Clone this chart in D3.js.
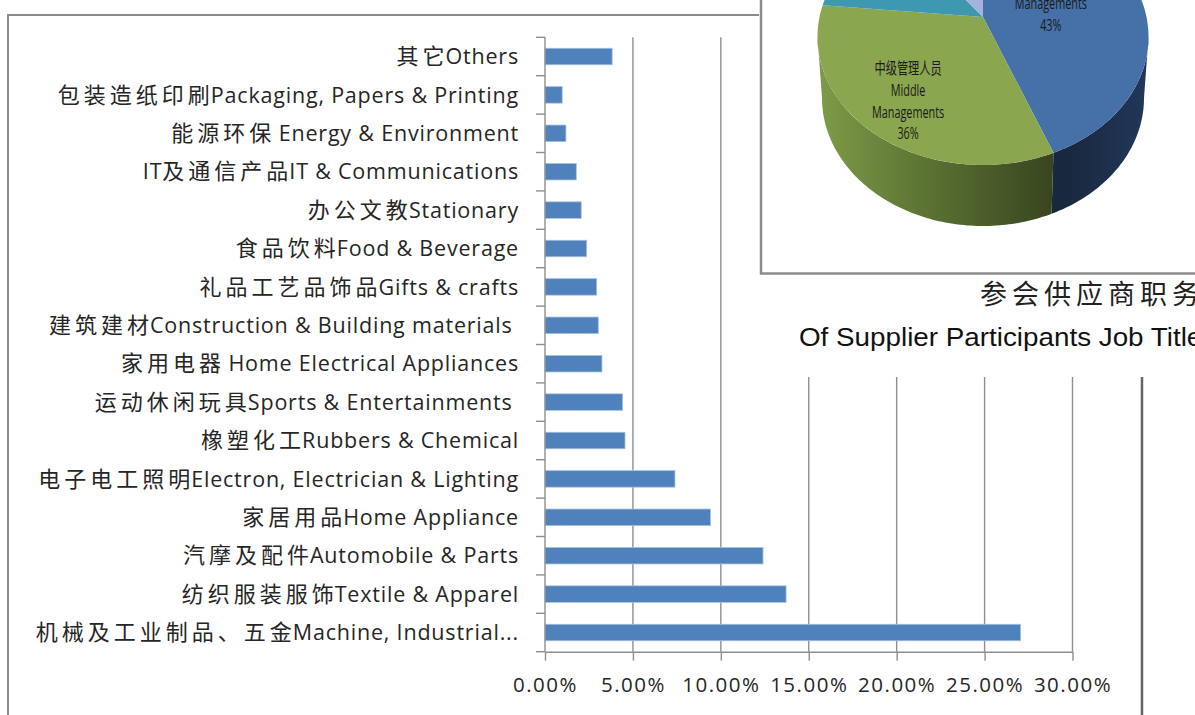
<!DOCTYPE html>
<html>
<head>
<meta charset="utf-8">
<script src="https://cdn.jsdelivr.net/npm/d3@7/dist/d3.min.js"></script>
<style>
  body { margin: 0; background: #fff; }
  svg { display: block; }
  .cat { white-space: pre; }
</style>
</head>
<body>
<div id="chart"></div>
<script>
// Industry categories, top to bottom as in the picture
var categories = [
  "其它Others",
  "包装造纸印刷Packaging, Papers & Printing",
  "能源环保 Energy & Environment",
  "IT及通信产品IT & Communications",
  "办公文教Stationary",
  "食品饮料Food & Beverage",
  "礼品工艺品饰品Gifts & crafts",
  "建筑建材Construction & Building materials ",
  "家用电器 Home Electrical Appliances",
  "运动休闲玩具Sports & Entertainments ",
  "橡塑化工Rubbers & Chemical",
  "电子电工照明Electron, Electrician & Lighting",
  "家居用品Home Appliance",
  "汽摩及配件Automobile & Parts",
  "纺织服装服饰Textile & Apparel",
  "机械及工业制品、五金Machine, Industrial..."
];
// share of participants in percent
var shares = [3.82, 0.98, 1.19, 1.78, 2.06, 2.37, 2.94, 3.03, 3.24, 4.41, 4.55, 7.39, 9.41, 12.40, 13.71, 27.05];
var xTicks = [0, 5, 10, 15, 20, 25, 30];

// pie of job titles (only partly visible)
var pieNames = [
  ["高级管理人员", "Senior", "Managements", "43%"],
  ["中级管理人员", "Middle", "Managements", "36%"],
  [],
  []
];
var pieValues = [43, 36, 12, 9];
var pieColors = ["#4571a8", "#8aa64f", "#3e98b0", "#a5b3dc"];

var titleCn = "参会供应商职务";
var titleEn = "Of Supplier Participants Job Title";

var latinFont = "'Open Sans', 'Noto Sans CJK SC', sans-serif";
var cjkFont = "'Noto Sans CJK SC', sans-serif";

var svgWidth = 1195;
var svgHeight = 715;

var svg = d3.select("#chart")
  .append("svg")
  .attr("width", svgWidth)
  .attr("height", svgHeight);

// outer frame of the bar chart
svg.append("path")
  .attr("d", "M8,716 V15 H1142 V716")
  .attr("fill", "none")
  .attr("stroke", "#8a8a8a")
  .attr("stroke-width", 2);
svg.append("line")
  .attr("x1", 1142).attr("x2", 1142)
  .attr("y1", 15).attr("y2", 716)
  .attr("stroke", "#666")
  .attr("stroke-width", 2.5);

// plot area
var plot = { left: 545, right: 1072.5, top: 37.3, bottom: 651.7 };

var x = d3.scaleLinear()
  .domain([0, 30])
  .range([plot.left, plot.right]);

var y = d3.scaleBand()
  .domain(categories)
  .range([plot.top, plot.bottom])
  .paddingInner(0.57)
  .paddingOuter(0.285);

// vertical gridlines
svg.append("g")
  .selectAll("line")
  .data(xTicks.slice(1))
  .enter()
  .append("line")
  .attr("x1", d => x(d))
  .attr("x2", d => x(d))
  .attr("y1", plot.top)
  .attr("y2", plot.bottom)
  .attr("stroke", "#8f8f8f")
  .attr("stroke-width", 1.4);

// bars
svg.append("g")
  .selectAll("rect")
  .data(shares)
  .enter()
  .append("rect")
  .attr("x", x(0))
  .attr("y", (d, i) => y(categories[i]))
  .attr("width", d => x(d) - x(0))
  .attr("height", y.bandwidth())
  .attr("fill", "#4f81bd")
  .attr("stroke", "#a9c1e0")
  .attr("stroke-width", 0.8);

// category axis: line plus ticks at band edges
var catAxis = svg.append("g");
catAxis.append("line")
  .attr("x1", plot.left).attr("x2", plot.left)
  .attr("y1", plot.top).attr("y2", plot.bottom)
  .attr("stroke", "#8f8f8f")
  .attr("stroke-width", 1.4);
catAxis.selectAll(".ctick")
  .data(d3.range(categories.length + 1))
  .enter()
  .append("line")
  .attr("x1", plot.left - 9)
  .attr("x2", plot.left)
  .attr("y1", i => plot.top + i * y.step())
  .attr("y2", i => plot.top + i * y.step())
  .attr("stroke", "#8f8f8f")
  .attr("stroke-width", 1.4);

// category labels, CJK runs set wider like the original
var cjkRun = /[\u3000-\u303f\u3400-\u9fff\uff00-\uffef]+|[^\u3000-\u303f\u3400-\u9fff\uff00-\uffef]+/g;
var cjk = /[\u3000-\u303f\u3400-\u9fff\uff00-\uffef]/;
var labels = catAxis.selectAll(".cat")
  .data(categories)
  .enter()
  .append("text")
  .attr("class", "cat")
  .attr("x", 519)
  .attr("y", d => y(d) + y.bandwidth() / 2)
  .attr("dy", "0.36em")
  .attr("text-anchor", "end")
  .style("font-family", latinFont)
  .style("font-size", "21.5px")
  .style("fill", "#262626");

labels.each(function(d) {
  var t = d3.select(this);
  var prevCjk = false;
  d.match(cjkRun).forEach(function(r) {
    var isCjk = cjk.test(r);
    var span = t.append("tspan").text(r);
    if (isCjk) {
      span.style("font-family", cjkFont)
        .style("font-size", "22px")
        .style("letter-spacing", "4px");
    } else {
      span.style("letter-spacing", "0.8px");
      if (prevCjk) span.attr("dx", -3);
    }
    prevCjk = isCjk;
  });
});

// value axis
var bottomAxis = d3.axisBottom(x)
  .tickValues(xTicks)
  .tickSize(9)
  .tickSizeOuter(0)
  .tickPadding(17)
  .tickFormat(d => d.toFixed(2) + "%");

var xAxis = svg.append("g")
  .attr("transform", `translate(0, ${plot.bottom})`)
  .call(bottomAxis);
xAxis.select(".domain").attr("stroke", "#8f8f8f").attr("stroke-width", 1.4);
xAxis.selectAll(".tick line").attr("stroke", "#8f8f8f").attr("stroke-width", 1.4);
xAxis.selectAll(".tick text")
  .style("font-family", "'Open Sans', sans-serif")
  .style("font-size", "20.5px")
  .style("letter-spacing", "1.5px")
  .style("fill", "#262626");

// white patch on the upper right holding the pie picture and the title
svg.append("rect")
  .attr("x", 759).attr("y", 0)
  .attr("width", 440).attr("height", 377)
  .attr("fill", "#fff");

svg.append("clipPath")
  .attr("id", "pieClip")
  .append("rect")
  .attr("x", 762).attr("y", 0)
  .attr("width", 440).attr("height", 272.5);

var pieG = svg.append("g").attr("clip-path", "url(#pieClip)");

// 3d pie geometry
var cx = 983, cy = 37, rx = 165.5, ry = 128, rxLow = 161, depth = 61;
var apex = [983, 17];
function rimTop(a) { return [cx + rx * Math.sin(a), cy - ry * Math.cos(a)]; }
function rimLow(a) { return [cx + rxLow * Math.sin(a), cy + depth - ry * Math.cos(a)]; }
function sample(a0, a1) {
  var n = Math.max(2, Math.ceil((a1 - a0) / 0.02));
  return d3.range(n + 1).map(k => a0 + (a1 - a0) * k / n);
}

var arcs = d3.pie().sort(null).startAngle(0).endAngle(2 * Math.PI)(pieValues);
var line = d3.line();

var defs = svg.append("defs");
var gGreen = defs.append("linearGradient")
  .attr("id", "sideGreen")
  .attr("gradientUnits", "userSpaceOnUse")
  .attr("x1", 818).attr("x2", 1066).attr("y1", 0).attr("y2", 0);
gGreen.append("stop").attr("offset", 0).attr("stop-color", "#7d9c47");
gGreen.append("stop").attr("offset", 0.5).attr("stop-color", "#566d30");
gGreen.append("stop").attr("offset", 1).attr("stop-color", "#35401d");
var gBlue = defs.append("linearGradient")
  .attr("id", "sideBlue")
  .attr("gradientUnits", "userSpaceOnUse")
  .attr("x1", 1066).attr("x2", 1150).attr("y1", 0).attr("y2", 0);
gBlue.append("stop").attr("offset", 0).attr("stop-color", "#18283f");
gBlue.append("stop").attr("offset", 1).attr("stop-color", "#22375a");
var sideFill = ["url(#sideBlue)", "url(#sideGreen)", "#2a6a7a", "#6f7a99"];

// side walls for the front half
arcs.forEach(function(a, i) {
  var s = Math.max(a.startAngle, Math.PI / 2);
  var e = Math.min(a.endAngle, 3 * Math.PI / 2);
  if (e <= s) return;
  var angles = sample(s, e);
  var pts = angles.map(rimTop).concat(angles.slice().reverse().map(rimLow));
  pieG.append("path")
    .attr("d", line(pts) + "Z")
    .attr("fill", sideFill[i]);
});

// top faces
arcs.forEach(function(a, i) {
  var pts = [apex].concat(sample(a.startAngle, a.endAngle).map(rimTop));
  pieG.append("path")
    .attr("d", line(pts) + "Z")
    .attr("fill", pieColors[i]);
});

// slice labels
var labelPlace = [[0.42, -21], [0.71, 0]];
arcs.forEach(function(a, i) {
  var lines = pieNames[i];
  if (!lines.length) return;
  var mid = (a.startAngle + a.endAngle) / 2;
  var r = rimTop(mid);
  var lx = apex[0] + labelPlace[i][0] * (r[0] - apex[0]);
  var ly = apex[1] + labelPlace[i][0] * (r[1] - apex[1]) + labelPlace[i][1];
  var lh = 21.7;
  lines.forEach(function(t, k) {
    pieG.append("text")
      .attr("transform", `translate(${lx}, ${ly + (k - (lines.length - 1) / 2) * lh}) scale(0.7, 1)`)
      .attr("text-anchor", "middle")
      .attr("dy", "0.36em")
      .style("font-family", cjk.test(t) ? cjkFont : latinFont)
      .style("font-size", cjk.test(t) ? "16px" : "15.5px")
      .style("fill", "#1a1a1a")
      .text(t);
  });
});

// frame of the pie picture
svg.append("path")
  .attr("d", "M761,0 V273.5 H1196")
  .attr("fill", "none")
  .attr("stroke", "#8c8c8c")
  .attr("stroke-width", 2.5);

// titles
svg.append("text")
  .attr("x", 980)
  .attr("y", 304)
  .style("font-family", cjkFont)
  .style("font-size", "27px")
  .style("letter-spacing", "5px")
  .style("fill", "#222")
  .text(titleCn);

svg.append("text")
  .attr("transform", "translate(799, 346) scale(1.07, 1)")
  .style("font-family", "'Liberation Sans', Arial, sans-serif")
  .style("font-size", "26px")
  .style("fill", "#111")
  .text(titleEn);
</script>
</body>
</html>
